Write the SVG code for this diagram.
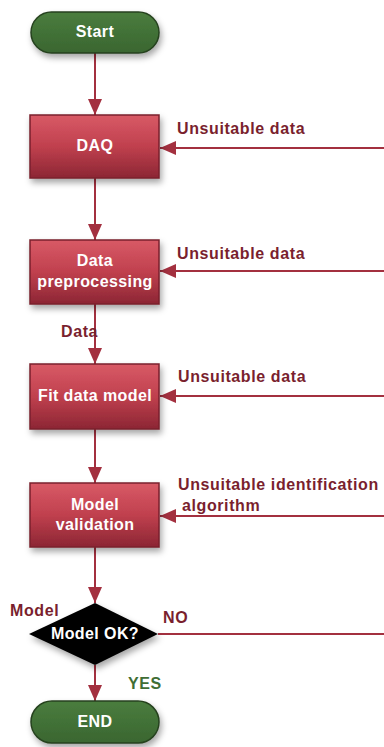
<svg xmlns="http://www.w3.org/2000/svg" width="384" height="747" viewBox="0 0 384 747">
<defs>
<linearGradient id="gRed" x1="0" y1="0" x2="0" y2="1">
<stop offset="0" stop-color="#d85a66"/>
<stop offset="0.5" stop-color="#c0404e"/>
<stop offset="1" stop-color="#8c2634"/>
</linearGradient>
<linearGradient id="gGreen" x1="0" y1="0" x2="0" y2="1">
<stop offset="0" stop-color="#4a7d3e"/>
<stop offset="1" stop-color="#3a6630"/>
</linearGradient>
<filter id="sh" x="-20%" y="-20%" width="150%" height="160%">
<feDropShadow dx="2" dy="4" stdDeviation="3" flood-color="#000" flood-opacity="0.35"/>
</filter>
<marker id="ah" markerUnits="userSpaceOnUse" markerWidth="16" markerHeight="16" viewBox="0 0 16 14" refX="16" refY="7" orient="auto">
<path d="M0,0 L16,7 L0,14 Z" fill="#a3303f"/>
</marker>
<style>
.term{fill:url(#gGreen);stroke:#26421f;stroke-width:1.5;filter:url(#sh)}
.box{fill:url(#gRed);stroke:#7a1f2c;stroke-width:1.5;filter:url(#sh)}
.dia{fill:#000;filter:url(#sh)}
.nt{font-family:"Liberation Sans",Arial,sans-serif;font-weight:bold;font-size:16px;fill:#fff;text-anchor:middle;letter-spacing:0.4px}
.lb{font-family:"Liberation Sans",Arial,sans-serif;font-weight:bold;font-size:16px;fill:#7a1f2e;letter-spacing:0.6px}
.yes{fill:#3f6e35}
.cn{stroke:#a3303f;stroke-width:2;fill:none}
</style>
</defs>
<g id="connectors">
<line class="cn" x1="95" y1="53" x2="95" y2="115" marker-end="url(#ah)"/>
<line class="cn" x1="95" y1="178" x2="95" y2="240" marker-end="url(#ah)"/>
<line class="cn" x1="95" y1="304" x2="95" y2="364" marker-end="url(#ah)"/>
<line class="cn" x1="95" y1="429" x2="95" y2="483" marker-end="url(#ah)"/>
<line class="cn" x1="95" y1="547" x2="95" y2="603" marker-end="url(#ah)"/>
<line class="cn" x1="95" y1="665" x2="95" y2="701" marker-end="url(#ah)"/>
<line class="cn" x1="384" y1="148" x2="160" y2="148" marker-end="url(#ah)"/>
<line class="cn" x1="384" y1="271" x2="160" y2="271" marker-end="url(#ah)"/>
<line class="cn" x1="384" y1="396" x2="160" y2="396" marker-end="url(#ah)"/>
<line class="cn" x1="384" y1="516" x2="160" y2="516" marker-end="url(#ah)"/>
<line class="cn" x1="158" y1="634" x2="384" y2="634"/>
<text class="lb" x="177" y="134">Unsuitable data</text>
<text class="lb" x="177" y="259">Unsuitable data</text>
<text class="lb" x="178" y="382">Unsuitable data</text>
<text class="lb" x="178" y="490">Unsuitable identification</text>
<text class="lb" x="182" y="511">algorithm</text>
<text class="lb" x="61" y="337">Data</text>
<text class="lb" x="10" y="616">Model</text>
<text class="lb" x="163" y="623">NO</text>
<text class="lb yes" x="128" y="689">YES</text>
</g>
<g id="start">
<rect class="term" x="31" y="12" width="128" height="41" rx="20.5"/>
<text class="nt" x="95" y="37">Start</text>
</g>
<g id="daq">
<rect class="box" x="30" y="115" width="129" height="63"/>
<text class="nt" x="95" y="151">DAQ</text>
</g>
<g id="preproc">
<rect class="box" x="30" y="240" width="129" height="64"/>
<text class="nt" x="95" y="266">Data</text>
<text class="nt" x="95" y="287">preprocessing</text>
</g>
<g id="fit">
<rect class="box" x="30" y="364" width="129" height="65"/>
<text class="nt" x="95" y="401">Fit data model</text>
</g>
<g id="validation">
<rect class="box" x="30" y="483" width="129" height="64"/>
<text class="nt" x="95" y="510">Model</text>
<text class="nt" x="95" y="530">validation</text>
</g>
<g id="decision">
<polygon class="dia" points="95,603 158,634 95,665 29,634"/>
<text class="nt" x="95" y="639">Model OK?</text>
</g>
<g id="end">
<rect class="term" x="31" y="701" width="128" height="42" rx="21"/>
<text class="nt" x="95" y="727">END</text>
</g>
</svg>
